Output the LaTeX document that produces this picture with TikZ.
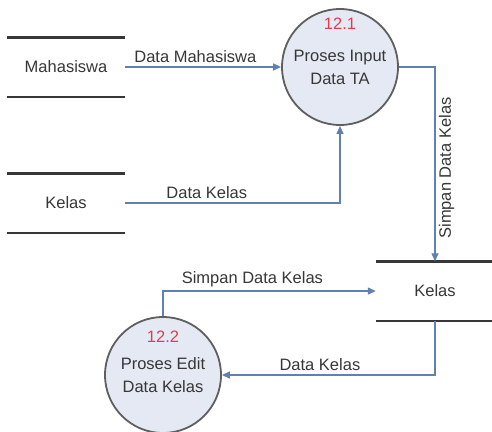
\documentclass[tikz,border=0pt]{standalone}
\usepackage{fontspec}
\setmainfont{Liberation Sans}
\usetikzlibrary{positioning, arrows.meta}
\definecolor{flowblue}{RGB}{96,128,176}
\definecolor{procfill}{RGB}{228,233,243}
\definecolor{procline}{RGB}{95,95,95}
\definecolor{textgray}{RGB}{55,55,55}
\definecolor{numred}{RGB}{225,60,80}
\begin{document}
\begin{tikzpicture}[
  x=1pt, y=-1pt,
  font=\fontsize{16.5}{23}\selectfont, text=textgray,
  store/.style={minimum width=118, minimum height=59, inner sep=0pt},
  storeline/.style={draw=textgray, line width=2.4pt},
  proc/.style={circle, draw=procline, line width=1.8pt, fill=procfill,
               minimum size=116, align=center, inner sep=0pt},
  numtxt/.style={text=numred},
  flow/.style={draw=flowblue, line width=1.3pt, -{Triangle[length=8pt, width=7pt]}},
]
\useasboundingbox (0,0) rectangle (492,431);
% data stores
\node[store] (mhs) at (66,67) {Mahasiswa};
\node[store] (kls1) at (66,203) {Kelas};
\node[store] (kls2) at (435,291) {Kelas};
\foreach \s in {mhs, kls1, kls2}
  \path[storeline] (\s.north west) -- (\s.north east)
                   (\s.south west) -- (\s.south east);
% processes
\node[proc] (p1) at (340,67) {Proses Input\\Data TA};
\node[numtxt] (n1) at ([yshift=43pt]p1.center) {12.1};
\node[proc] (p2) at (163,375) {Proses Edit\\Data Kelas};
\node[numtxt] (n2) at ([yshift=38pt]p2.center) {12.2};
% flows
\draw[flow] (mhs.east) -- node[above, pos=0.45] {Data Mahasiswa} (p1.west);
\draw[flow] (kls1.east) -| node[above, pos=0.19] {Data Kelas} (p1.south);
\draw[flow] (p1.east) -| node[rotate=90, anchor=north, pos=0.76, xshift=0pt] {Simpan Data Kelas} (kls2.north);
\draw[flow] (p2.north) |- node[above, pos=0.71] {Simpan Data Kelas} (kls2.west);
\draw[flow] (kls2.south) |- node[above, pos=0.77] {Data Kelas} (p2.east);
\end{tikzpicture}
\end{document}
